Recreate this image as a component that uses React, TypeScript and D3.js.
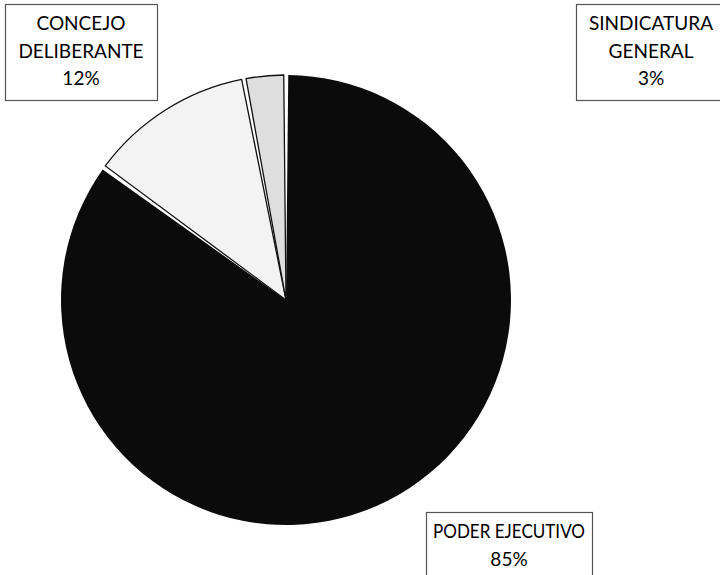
import React, { useRef, useEffect } from "react";
import * as d3 from "d3";

const LABELS = ["PODER EJECUTIVO", "CONCEJO DELIBERANTE", "SINDICATURA GENERAL"];
const LABEL_LINES = [["PODER EJECUTIVO"], ["CONCEJO", "DELIBERANTE"], ["SINDICATURA", "GENERAL"]];
const VALUES = [85, 12, 3];
const COLORS = ["#0b0b0b", "#f3f3f3", "#dedede"];

const W = 720;
const H = 575;
const CX = 286;
const CY = 300;
const R = 225;

// label boxes (x, y, w, h) — placed like the original callouts
const BOXES = [
  { x: 426, y: 512, w: 166, h: 80 },
  { x: 5, y: 4, w: 152, h: 96 },
  { x: 576, y: 4, w: 150, h: 96 },
];

interface Slice {
  label: string;
  lines: string[];
  value: number;
  color: string;
}

const App: React.FC = () => {
  const svgRef = useRef<SVGSVGElement>(null);

  useEffect(() => {
    const svgEl = svgRef.current;
    if (!svgEl) return;
    const svg = d3.select(svgEl);
    svg.selectAll("*").remove();

    const data: Slice[] = VALUES.map((v, i) => ({
      label: LABELS[i],
      lines: LABEL_LINES[i],
      value: v,
      color: COLORS[i],
    }));

    const pie = d3.pie<Slice>().value(d => d.value).sort(null);
    const arcs = pie(data);

    // small pad so the light wedges sit apart from the dark one, as in the print
    const arc = d3.arc<d3.PieArcDatum<Slice>>()
      .innerRadius(0)
      .outerRadius(R)
      .padAngle(0.02)
      .padRadius(R);

    const g = svg.append("g").attr("transform", `translate(${CX},${CY})`);

    g.selectAll("path.slice")
      .data(arcs)
      .join("path")
      .attr("class", "slice")
      .attr("d", arc)
      .attr("fill", d => d.data.color)
      .attr("stroke", (d, i) => (i === 0 ? "none" : "#111"))
      .attr("stroke-width", 1.3)
      .attr("stroke-linejoin", "miter");

    // callout boxes
    const lg = svg.selectAll("g.label")
      .data(data)
      .join("g")
      .attr("class", "label")
      .attr("transform", (d, i) => `translate(${BOXES[i].x},${BOXES[i].y})`);

    lg.append("rect")
      .attr("x", 0.5).attr("y", 0.5)
      .attr("width", (d, i) => BOXES[i].w)
      .attr("height", (d, i) => BOXES[i].h)
      .attr("fill", "#fff")
      .attr("stroke", "#555")
      .attr("stroke-width", 1.2);

    lg.each(function (d, i) {
      const sel = d3.select(this);
      const lines = [...d.lines, `${d.value}%`];
      const maxW = BOXES[i].w - 14;
      lines.forEach((t, k) => {
        const txt = sel.append("text")
          .attr("x", BOXES[i].w / 2)
          .attr("y", 26 + k * 27.5)
          .attr("text-anchor", "middle")
          .attr("font-family", "Lato, 'Open Sans', sans-serif")
          .attr("font-size", 19)
          .attr("fill", "#000")
          .text(t);
        // Lato runs a bit wider than the original face; squeeze long lines to fit
        const len = (txt.node() as SVGTextElement).getComputedTextLength();
        if (len > maxW) {
          txt.attr("textLength", maxW).attr("lengthAdjust", "spacingAndGlyphs");
        }
      });
    });
  }, []);

  return (
    <div style={{ position: "absolute", left: 0, top: 0, width: W, height: H, background: "#fff" }}>
      <svg ref={svgRef} width={W} height={H} style={{ display: "block" }} />
    </div>
  );
};

export default App;
